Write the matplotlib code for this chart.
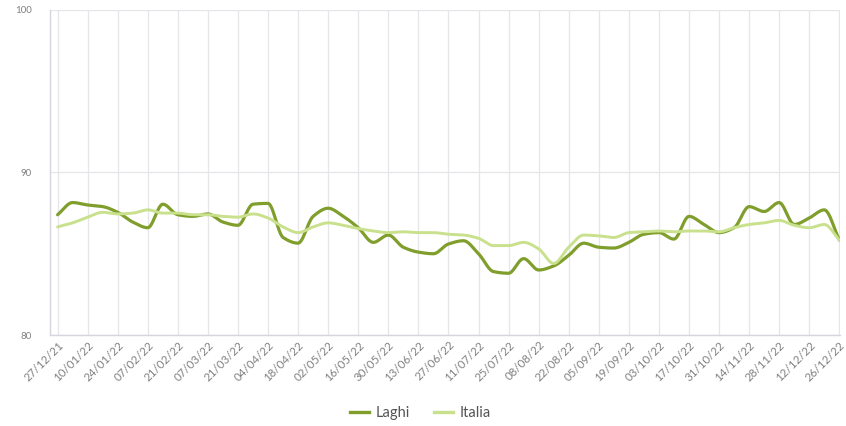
import numpy as np
import matplotlib
matplotlib.use("Agg")
import matplotlib.pyplot as plt
from matplotlib.lines import Line2D

# Weekly index values, 27/12/21 .. 26/12/22
laghi = [87.4, 88.15, 88.0, 87.9, 87.55, 86.95, 86.6, 88.05, 87.4, 87.3,
         87.45, 86.95, 86.75, 88.05, 88.1, 86.0, 85.65, 87.3, 87.8, 87.3,
         86.6, 85.7, 86.15, 85.4, 85.1, 85.0, 85.6, 85.8, 85.0, 83.9,
         83.8, 84.7, 84.0, 84.25, 84.9, 85.65, 85.4, 85.35, 85.7, 86.2,
         86.3, 85.9, 87.3, 86.8, 86.3, 86.6, 87.9, 87.6, 88.15, 86.8,
         87.2, 87.7, 85.85]
italia = [86.65, 86.9, 87.25, 87.55, 87.45, 87.5, 87.7, 87.5, 87.5, 87.4,
          87.4, 87.3, 87.25, 87.45, 87.2, 86.65, 86.3, 86.65, 86.9, 86.75,
          86.55, 86.4, 86.3, 86.35, 86.3, 86.3, 86.2, 86.15, 85.95, 85.5,
          85.5, 85.7, 85.3, 84.4, 85.4, 86.15, 86.1, 86.0, 86.3, 86.35,
          86.4, 86.35, 86.4, 86.4, 86.35, 86.6, 86.8, 86.9, 87.05, 86.75,
          86.6, 86.8, 85.85]
tick_labels = ["27/12/21", "10/01/22", "24/01/22", "07/02/22", "21/02/22",
               "07/03/22", "21/03/22", "04/04/22", "18/04/22", "02/05/22",
               "16/05/22", "30/05/22", "13/06/22", "27/06/22", "11/07/22",
               "25/07/22", "08/08/22", "22/08/22", "05/09/22", "19/09/22",
               "03/10/22", "17/10/22", "31/10/22", "14/11/22", "28/11/22",
               "12/12/22", "26/12/22"]
y_ticks = [80, 90, 100]

series = [("Laghi", laghi, "#7f9e2c", 2.3), ("Italia", italia, "#c9e08c", 2.1)]


def smooth(x, y, n=12):
    """Monotone cubic (Fritsch-Carlson) curve through the points."""
    x = np.asarray(x, float)
    y = np.asarray(y, float)
    h = np.diff(x)
    d = np.diff(y) / h
    m = np.zeros_like(y)
    m[0], m[-1] = d[0], d[-1]
    for i in range(1, len(y) - 1):
        if d[i - 1] * d[i] <= 0:
            m[i] = 0.0
        else:
            w1 = 2 * h[i] + h[i - 1]
            w2 = h[i] + 2 * h[i - 1]
            m[i] = (w1 + w2) / (w1 / d[i - 1] + w2 / d[i])
    xs, ys = [], []
    for i in range(len(x) - 1):
        t = np.linspace(0, 1, n, endpoint=False)
        h00 = 2 * t**3 - 3 * t**2 + 1
        h10 = t**3 - 2 * t**2 + t
        h01 = -2 * t**3 + 3 * t**2
        h11 = t**3 - t**2
        xs.append(x[i] + t * h[i])
        ys.append(h00 * y[i] + h10 * h[i] * m[i] + h01 * y[i + 1] + h11 * h[i] * m[i + 1])
    xs.append([x[-1]])
    ys.append([y[-1]])
    return np.concatenate(xs), np.concatenate(ys)


plt.rcParams["font.family"] = ["Lato", "DejaVu Sans"]

fig = plt.figure(figsize=(8.46, 4.26), dpi=100)
ax = fig.add_axes([0.059, 0.2136, 0.934, 0.763])

weeks = np.arange(len(laghi))
for name, vals, color, lw in series:
    sx, sy = smooth(weeks, vals)
    ax.plot(sx, sy, color=color, lw=lw, solid_capstyle="round", zorder=3)

ax.set_ylim(80, 100)
ax.set_xlim(-0.51, 52.05)
ax.set_yticks(y_ticks)
ax.set_yticklabels([str(v) for v in y_ticks])
tick_pos = np.arange(0, len(laghi), 2)
ax.set_xticks(tick_pos)
ax.set_xticklabels(tick_labels, rotation=45, ha="right", rotation_mode="anchor")

ax.grid(True, color="#e6e6ea", lw=0.9, zorder=0)
for side in ("top", "right"):
    ax.spines[side].set_visible(False)
for side in ("left", "bottom"):
    ax.spines[side].set_color("#d6d6e0")
    ax.spines[side].set_linewidth(1.0)
ax.tick_params(axis="both", length=0, colors="#808080")
ax.tick_params(axis="y", labelsize=7, pad=13)
ax.tick_params(axis="x", labelsize=8.3, pad=3)

handles = [Line2D([], [], color=c, lw=2.4) for _, _, c, _ in series]
fig.legend(handles, [s[0] for s in series], loc="center", bbox_to_anchor=(0.497, 0.03),
           ncol=2, frameon=False, fontsize=10.5, handlelength=1.3, columnspacing=1.6,
           handletextpad=0.5, labelcolor="#555555")

fig.savefig("out.png", dpi=100, facecolor="white")
